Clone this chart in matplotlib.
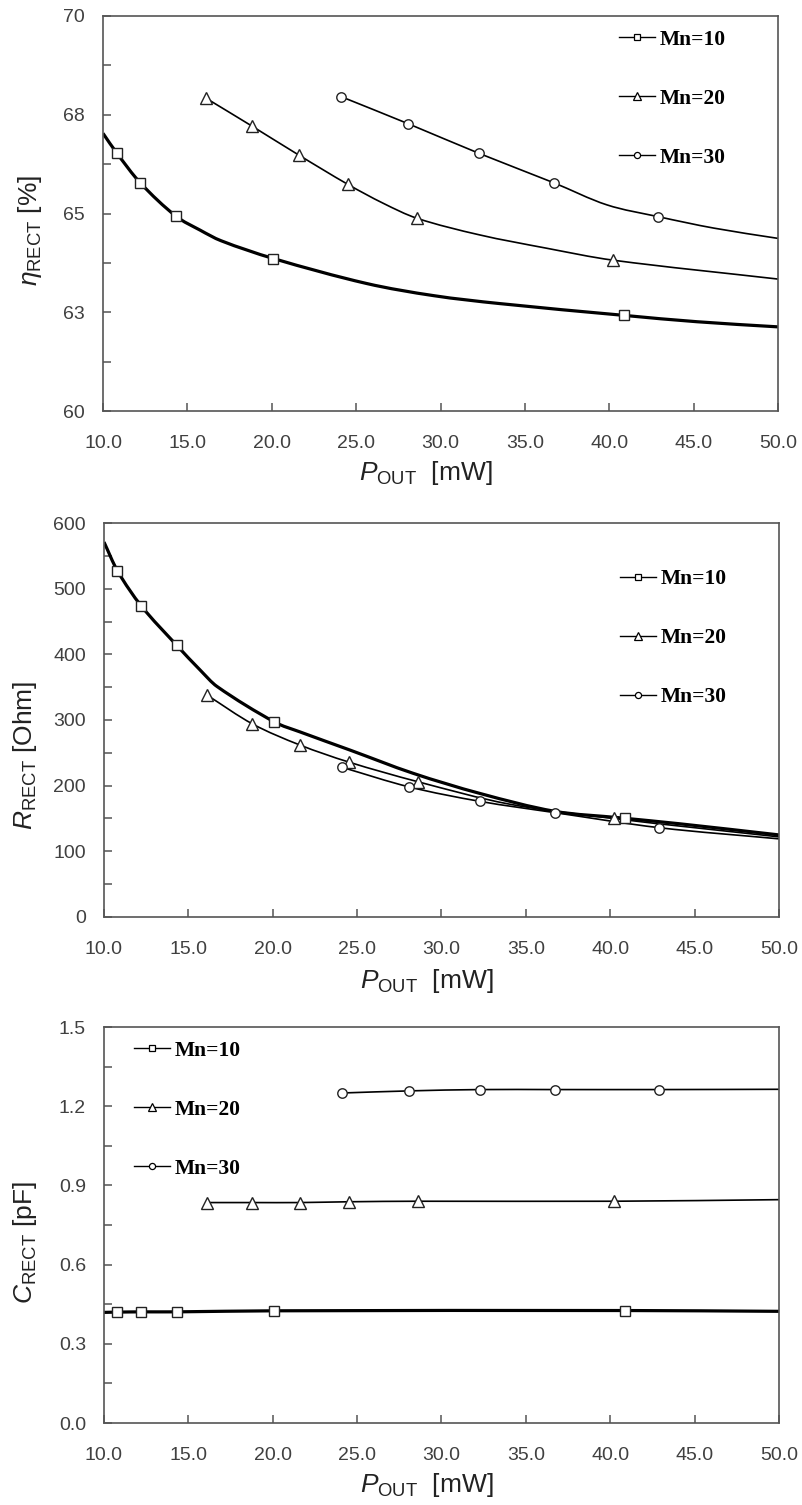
import matplotlib
matplotlib.use("Agg")
import numpy as np
import matplotlib.pyplot as plt
from matplotlib.lines import Line2D
from matplotlib.path import Path
from matplotlib.patches import PathPatch

plt.rcParams['font.family'] = ['Liberation Sans', 'DejaVu Sans']
plt.rcParams['mathtext.fontset'] = 'custom'
plt.rcParams['mathtext.rm'] = 'Liberation Sans'
plt.rcParams['mathtext.it'] = 'Liberation Sans:italic'
plt.rcParams['mathtext.bf'] = 'Liberation Sans:bold'

# ---------------- data ----------------
labels = ["Mn=10", "Mn=20", "Mn=30"]
x_ticks = [10, 15, 20, 25, 30, 35, 40, 45, 50]
x_ticklabels = ["10.0", "15.0", "20.0", "25.0", "30.0", "35.0", "40.0", "45.0", "50.0"]

# marker positions (P_OUT, mW)
mk_x10 = [10.8, 12.2, 14.3, 20.1, 40.9]
mk_x20 = [16.1, 18.8, 21.6, 24.5, 28.6, 40.2]
mk_x30 = [24.1, 28.1, 32.3, 36.7, 42.9]

# --- panel 1: efficiency [%]
eta_mk10 = [66.54, 65.78, 64.94, 63.86, 62.42]
eta_mk20 = [67.92, 67.22, 66.48, 65.74, 64.88, 63.82]
eta_mk30 = [67.96, 67.27, 66.52, 65.78, 64.92]
eta_cx10 = [10.0, 10.8, 12.2, 14.3, 15.75, 17.0, 20.1, 25.6, 29.6, 33.5, 40.9, 45.2, 50.0]
eta_cy10 = [67.03, 66.54, 65.78, 64.94, 64.58, 64.31, 63.86, 63.23, 62.92, 62.72, 62.42, 62.26, 62.13]
eta_cx20 = [16.1, 18.8, 21.6, 24.5, 26.6, 28.6, 32.3, 36.3, 40.2, 50.0]
eta_cy20 = [67.92, 67.22, 66.48, 65.74, 65.26, 64.88, 64.46, 64.12, 63.82, 63.34]
eta_cx30 = [24.1, 28.1, 32.3, 36.7, 39.85, 42.9, 46.2, 50.0]
eta_cy30 = [67.96, 67.27, 66.52, 65.78, 65.22, 64.92, 64.63, 64.37]

# --- panel 2: resistance [Ohm]
r_mk10 = [527, 474, 414, 297, 151]
r_mk20 = [338, 294, 262, 236, 206, 150]
r_mk30 = [228, 198, 176, 159, 136]
r_cx10 = [10.0, 10.8, 12.2, 14.3, 15.7, 16.7, 20.1, 21.6, 24.6, 28.3, 32.3, 36.7, 40.6, 44.1, 50.0]
r_cy10 = [571, 527, 474, 414, 376, 351, 297, 282, 254, 219, 188, 161, 151, 142, 125]
r_cx20 = [16.1, 18.8, 21.6, 24.5, 28.6, 34.0, 40.2, 50.0]
r_cy20 = [338, 294, 262, 236, 206, 172, 150, 122]
r_cx30 = [24.1, 28.1, 32.3, 36.7, 42.9, 50.0]
r_cy30 = [228, 198, 176, 159, 136, 119]

# --- panel 3: capacitance [pF]
c_mk10 = [0.420, 0.421, 0.421, 0.425, 0.426]
c_mk20 = [0.835, 0.835, 0.835, 0.838, 0.840, 0.840]
c_mk30 = [1.250, 1.258, 1.263, 1.263, 1.263]
c_cx10 = [10.0, 10.8, 12.2, 14.3, 20.1, 40.9, 50.0]
c_cy10 = [0.419, 0.420, 0.421, 0.421, 0.425, 0.426, 0.423]
c_cx20 = [16.1, 18.8, 21.6, 24.5, 28.6, 40.2, 50.0]
c_cy20 = [0.835, 0.835, 0.835, 0.838, 0.840, 0.840, 0.846]
c_cx30 = [24.1, 28.1, 32.3, 36.7, 42.9, 50.0]
c_cy30 = [1.250, 1.258, 1.263, 1.263, 1.263, 1.264]

eta_ticks = [60, 61.25, 62.5, 63.75, 65, 66.25, 67.5, 68.75, 70]
eta_ticklabels = ["60", "", "63", "", "65", "", "68", "", "70"]
r_ticks = [0, 50, 100, 150, 200, 250, 300, 350, 400, 450, 500, 550, 600]
r_ticklabels = ["0", "", "100", "", "200", "", "300", "", "400", "", "500", "", "600"]
c_ticks = [0.0, 0.15, 0.3, 0.45, 0.6, 0.75, 0.9, 1.05, 1.2, 1.35, 1.5]
c_ticklabels = ["0.0", "", "0.3", "", "0.6", "", "0.9", "", "1.2", "", "1.5"]

# ---------------- styling ----------------
W, H = 803, 1505
fig = plt.figure(figsize=(W / 100, H / 100), dpi=100)


def frac_rect(l, t, r, b):
    return [l / W, 1 - b / H, (r - l) / W, (b - t) / H]


ax1 = fig.add_axes(frac_rect(103, 16, 778, 411))
ax2 = fig.add_axes(frac_rect(104, 523, 779, 917))
ax3 = fig.add_axes(frac_rect(104, 1027, 779, 1423))

spine_c = '#555555'
tick_c = '#404040'
markers = ['s', '^', 'o']
msizes = [7.0, 8.0, 6.8]
lws = [2.3, 1.2, 1.2]


def smooth_path(x, y):
    """Smoothed (Excel-style) line through the read points, as a cubic Bezier path."""
    x = np.asarray(x, float)
    y = np.asarray(y, float)
    n = len(x)
    m = np.empty(n)
    m[0] = (y[1] - y[0]) / (x[1] - x[0])
    m[-1] = (y[-1] - y[-2]) / (x[-1] - x[-2])
    for i in range(1, n - 1):
        m[i] = (y[i + 1] - y[i - 1]) / (x[i + 1] - x[i - 1])
    verts = [(x[0], y[0])]
    codes = [Path.MOVETO]
    for i in range(n - 1):
        h = x[i + 1] - x[i]
        verts += [(x[i] + h / 3, y[i] + m[i] * h / 3),
                  (x[i + 1] - h / 3, y[i + 1] - m[i + 1] * h / 3),
                  (x[i + 1], y[i + 1])]
        codes += [Path.CURVE4] * 3
    return Path(verts, codes)


def draw(ax, curves, mks, ylim, yt, ytl, ylabel, ylab_pos, xlab_pos, leg_pos):
    mkxs = [mk_x10, mk_x20, mk_x30]
    for i, ((cx, cy), my) in enumerate(zip(curves, mks)):
        patch = PathPatch(smooth_path(cx, cy), facecolor='none', edgecolor='black',
                          lw=lws[i], capstyle='butt', zorder=2, transform=ax.transData)
        ax.add_patch(patch)
        ax.plot(mkxs[i], my, linestyle='none', marker=markers[i], ms=msizes[i],
                mfc='white', mec='#222222', mew=1.0, zorder=3)
    ax.set_xlim(10, 50)
    ax.set_ylim(*ylim)
    ax.set_xticks(x_ticks)
    ax.set_xticklabels(x_ticklabels)
    ax.set_yticks(yt)
    ax.set_yticklabels(ytl)
    ax.tick_params(direction='in', length=6, width=1.1, color=spine_c,
                   labelsize=14, labelcolor=tick_c)
    ax.tick_params(axis='x', pad=17)
    ax.tick_params(axis='y', pad=13)
    for s in ax.spines.values():
        s.set_color(spine_c)
        s.set_linewidth(1.2)
    ax.set_ylabel(ylabel, fontsize=19, color='#222222', va='center', ha='center')
    ax.yaxis.set_label_coords(*ylab_pos)
    ax.set_xlabel(r'$P_{\mathrm{OUT}}$  [mW]', fontsize=19, color='#222222',
                  va='center', ha='center')
    ax.xaxis.set_label_coords(*xlab_pos)
    handles = [Line2D([], [], color='black', lw=1.0, marker=markers[i],
                      ms=msizes[i] * 0.65, mfc='white', mec='black', mew=0.9)
               for i in range(3)]
    leg = ax.legend(handles, labels, loc='upper left', bbox_to_anchor=leg_pos,
                    frameon=False, borderpad=0, borderaxespad=0,
                    handlelength=1.7, handletextpad=0.2, labelspacing=1.81,
                    prop={'family': 'Liberation Serif', 'weight': 'bold', 'size': 15.5})
    return leg


draw(ax1, [(eta_cx10, eta_cy10), (eta_cx20, eta_cy20), (eta_cx30, eta_cy30)],
     [eta_mk10, eta_mk20, eta_mk30], (60, 70), eta_ticks, eta_ticklabels,
     r'$\eta_{\mathrm{RECT}}$ [%]', (-0.108, 0.458), (0.478, -0.158), (0.764, 0.965))

draw(ax2, [(r_cx10, r_cy10), (r_cx20, r_cy20), (r_cx30, r_cy30)],
     [r_mk10, r_mk20, r_mk30], (0, 600), r_ticks, r_ticklabels,
     r'$R_{\mathrm{RECT}}$ [Ohm]', (-0.117, 0.411), (0.478, -0.163), (0.764, 0.883))

draw(ax3, [(c_cx10, c_cy10), (c_cx20, c_cy20), (c_cx30, c_cy30)],
     [c_mk10, c_mk20, c_mk30], (0, 1.5), c_ticks, c_ticklabels,
     r'$C_{\mathrm{RECT}}$ [pF]', (-0.117, 0.455), (0.478, -0.157), (0.044, 0.965))

fig.savefig('out.png', dpi=100)
